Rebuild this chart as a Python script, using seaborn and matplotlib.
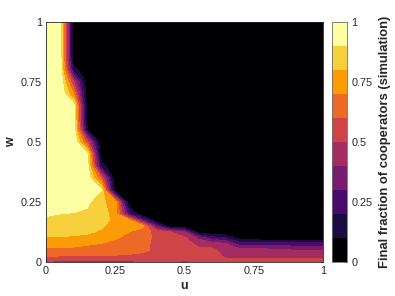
import numpy as np
import seaborn as sns
import matplotlib
matplotlib.use("Agg")
from matplotlib import pyplot as plt
from matplotlib.colors import ListedColormap

# grid of the simulation (u along x, w along y)
u_grid = [0.0, 0.05, 0.1, 0.15, 0.2, 0.25, 0.3, 0.35, 0.4, 0.45, 0.5,
          0.55, 0.6, 0.65, 0.7, 0.75, 0.8, 0.85, 0.9, 0.95, 1.0]
w_grid = [0.0, 0.025, 0.05, 0.075, 0.1, 0.125, 0.15, 0.175, 0.2, 0.25, 0.3,
          0.35, 0.4, 0.45, 0.5, 0.55, 0.6, 0.65, 0.7, 0.75, 0.8, 0.85, 0.9, 0.95, 1.0]

# final fraction of cooperators, one row per w value
frac = [
    [0.48, 0.48, 0.47, 0.47, 0.48, 0.48, 0.48, 0.49, 0.50, 0.52, 0.47, 0.52, 0.52, 0.53, 0.55, 0.55, 0.55, 0.55, 0.55, 0.55, 0.55],  # w=0
    [0.605, 0.60, 0.60, 0.60, 0.59, 0.59, 0.585, 0.575, 0.56, 0.56, 0.56, 0.56, 0.55, 0.48, 0.46, 0.46, 0.46, 0.46, 0.46, 0.46, 0.46],  # w=0.025
    [0.67, 0.67, 0.665, 0.66, 0.67, 0.66, 0.64, 0.62, 0.58, 0.57, 0.56, 0.52, 0.52, 0.46, 0.43, 0.43, 0.43, 0.42, 0.39, 0.39, 0.39],  # w=0.05
    [0.75, 0.75, 0.735, 0.71, 0.695, 0.67, 0.65, 0.62, 0.58, 0.57, 0.54, 0.48, 0.46, 0.42, 0.25, 0.25, 0.25, 0.25, 0.25, 0.25, 0.25],  # w=0.075
    [0.79, 0.79, 0.785, 0.78, 0.74, 0.71, 0.67, 0.63, 0.58, 0.56, 0.52, 0.38, 0.25, 0.20, 0.05, 0.03, 0.02, 0.02, 0.02, 0.02, 0.02],  # w=0.1
    [0.83, 0.83, 0.825, 0.81, 0.79, 0.75, 0.70, 0.64, 0.57, 0.50, 0.40, 0.05, 0.0, 0.0, 0.0, 0.0, 0.0, 0.0, 0.0, 0.0, 0.0],  # w=0.125
    [0.86, 0.86, 0.855, 0.84, 0.81, 0.77, 0.73, 0.72, 0.30, 0.0, 0.0, 0.0, 0.0, 0.0, 0.0, 0.0, 0.0, 0.0, 0.0, 0.0, 0.0],  # w=0.15
    [0.885, 0.88, 0.875, 0.86, 0.83, 0.78, 0.72, 0.30, 0.0, 0.0, 0.0, 0.0, 0.0, 0.0, 0.0, 0.0, 0.0, 0.0, 0.0, 0.0, 0.0],  # w=0.175
    [0.91, 0.90, 0.895, 0.88, 0.84, 0.76, 0.25, 0.0, 0.0, 0.0, 0.0, 0.0, 0.0, 0.0, 0.0, 0.0, 0.0, 0.0, 0.0, 0.0, 0.0],  # w=0.2
    [0.95, 0.95, 0.94, 0.92, 0.82, 0.75, 0.0, 0.0, 0.0, 0.0, 0.0, 0.0, 0.0, 0.0, 0.0, 0.0, 0.0, 0.0, 0.0, 0.0, 0.0],  # w=0.25
    [1.0, 1.0, 0.99, 0.97, 0.90, 0.0, 0.0, 0.0, 0.0, 0.0, 0.0, 0.0, 0.0, 0.0, 0.0, 0.0, 0.0, 0.0, 0.0, 0.0, 0.0],  # w=0.3
    [1.0, 1.0, 1.0, 0.97, 0.60, 0.0, 0.0, 0.0, 0.0, 0.0, 0.0, 0.0, 0.0, 0.0, 0.0, 0.0, 0.0, 0.0, 0.0, 0.0, 0.0],  # w=0.35
    [1.0, 1.0, 1.0, 0.93, 0.15, 0.0, 0.0, 0.0, 0.0, 0.0, 0.0, 0.0, 0.0, 0.0, 0.0, 0.0, 0.0, 0.0, 0.0, 0.0, 0.0],  # w=0.4
    [1.0, 1.0, 1.0, 0.90, 0.0, 0.0, 0.0, 0.0, 0.0, 0.0, 0.0, 0.0, 0.0, 0.0, 0.0, 0.0, 0.0, 0.0, 0.0, 0.0, 0.0],  # w=0.45
    [1.0, 1.0, 1.0, 0.55, 0.0, 0.0, 0.0, 0.0, 0.0, 0.0, 0.0, 0.0, 0.0, 0.0, 0.0, 0.0, 0.0, 0.0, 0.0, 0.0, 0.0],  # w=0.5
    [1.0, 1.0, 0.97, 0.10, 0.0, 0.0, 0.0, 0.0, 0.0, 0.0, 0.0, 0.0, 0.0, 0.0, 0.0, 0.0, 0.0, 0.0, 0.0, 0.0, 0.0],  # w=0.55
    [1.0, 1.0, 0.95, 0.0, 0.0, 0.0, 0.0, 0.0, 0.0, 0.0, 0.0, 0.0, 0.0, 0.0, 0.0, 0.0, 0.0, 0.0, 0.0, 0.0, 0.0],  # w=0.6
    [1.0, 1.0, 0.95, 0.0, 0.0, 0.0, 0.0, 0.0, 0.0, 0.0, 0.0, 0.0, 0.0, 0.0, 0.0, 0.0, 0.0, 0.0, 0.0, 0.0, 0.0],  # w=0.65
    [1.0, 1.0, 0.70, 0.0, 0.0, 0.0, 0.0, 0.0, 0.0, 0.0, 0.0, 0.0, 0.0, 0.0, 0.0, 0.0, 0.0, 0.0, 0.0, 0.0, 0.0],  # w=0.7
    [1.0, 1.0, 0.50, 0.0, 0.0, 0.0, 0.0, 0.0, 0.0, 0.0, 0.0, 0.0, 0.0, 0.0, 0.0, 0.0, 0.0, 0.0, 0.0, 0.0, 0.0],  # w=0.75
    [1.0, 0.99, 0.15, 0.0, 0.0, 0.0, 0.0, 0.0, 0.0, 0.0, 0.0, 0.0, 0.0, 0.0, 0.0, 0.0, 0.0, 0.0, 0.0, 0.0, 0.0],  # w=0.8
    [1.0, 0.98, 0.0, 0.0, 0.0, 0.0, 0.0, 0.0, 0.0, 0.0, 0.0, 0.0, 0.0, 0.0, 0.0, 0.0, 0.0, 0.0, 0.0, 0.0, 0.0],  # w=0.85
    [1.0, 0.98, 0.0, 0.0, 0.0, 0.0, 0.0, 0.0, 0.0, 0.0, 0.0, 0.0, 0.0, 0.0, 0.0, 0.0, 0.0, 0.0, 0.0, 0.0, 0.0],  # w=0.9
    [1.0, 0.98, 0.0, 0.0, 0.0, 0.0, 0.0, 0.0, 0.0, 0.0, 0.0, 0.0, 0.0, 0.0, 0.0, 0.0, 0.0, 0.0, 0.0, 0.0, 0.0],  # w=0.95
    [1.0, 0.98, 0.0, 0.0, 0.0, 0.0, 0.0, 0.0, 0.0, 0.0, 0.0, 0.0, 0.0, 0.0, 0.0, 0.0, 0.0, 0.0, 0.0, 0.0, 0.0],  # w=1
]

ticks = [0, 0.25, 0.5, 0.75, 1]
tick_labels = ["0", "0.25", "0.5", "0.75", "1"]
levels = [0, 0.1, 0.2, 0.3, 0.4, 0.5, 0.6, 0.7, 0.8, 0.9, 1.0]

sns.set_style("white")
plt.rcParams["font.family"] = ["Liberation Sans", "DejaVu Sans"]
txt = "#262626"

cmap = ListedColormap(plt.get_cmap("inferno")(np.linspace(0, 1, 10)))

fig = plt.figure(figsize=(3.95, 2.96), dpi=100)
ax = fig.add_axes([0.1165, 0.1149, 0.701, 0.8108])
cax = fig.add_axes([0.8405, 0.1149, 0.038, 0.8108])

cs = ax.contourf(u_grid, w_grid, np.array(frac), levels=levels, cmap=cmap)

ax.set_xlim(0, 1)
ax.set_ylim(0, 1)
ax.set_xticks(ticks)
ax.set_xticklabels(tick_labels)
ax.set_yticks(ticks)
ax.set_yticklabels(tick_labels)
ax.tick_params(direction="in", length=2.5, width=0.5, top=True, right=True,
               labelsize=7.8, colors=txt, pad=3)
for s in ax.spines.values():
    s.set_linewidth(0.6)
    s.set_color(txt)
ax.set_xlabel("u", fontsize=9, fontweight="bold", color=txt, labelpad=3)
ax.set_ylabel("w", fontsize=9, fontweight="bold", color=txt, labelpad=3)

cb = fig.colorbar(cs, cax=cax, ticks=ticks)
cb.ax.set_yticklabels(tick_labels)
cb.ax.tick_params(direction="in", length=2.5, width=0.5, labelsize=7.8,
                  colors=txt, pad=3)
cb.outline.set_linewidth(0.6)
cb.outline.set_edgecolor("#6e6e6e")
cb.set_label("Final fraction of cooperators (simulation)", fontsize=9.4,
             fontweight="bold", color=txt, labelpad=5)

fig.savefig("out.png", dpi=100)
